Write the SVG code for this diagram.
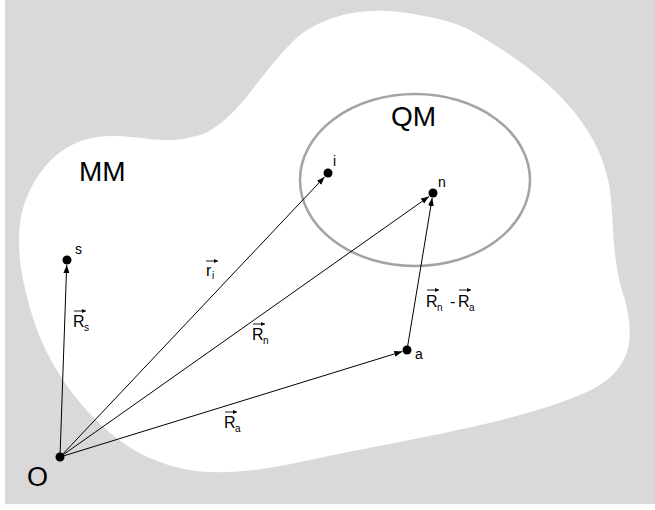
<svg xmlns="http://www.w3.org/2000/svg" width="655" height="510" viewBox="0 0 655 510">
<defs>
<style>
text{font-family:"Liberation Sans",Arial,sans-serif;fill:#000}
.big{font-size:28px}
.lbl{font-size:14px}
.v{font-size:16px}
.sub{font-size:10px}
.con{stroke:#000;stroke-width:1;fill:none}
.va{stroke:#000;stroke-width:0.9;fill:none}
.dot{fill:#000}
</style>
<marker id="ah" markerUnits="userSpaceOnUse" markerWidth="10" markerHeight="8" refX="8" refY="3" orient="auto">
<path d="M0,0 L8,3 L0,6 Z" fill="#000"/>
</marker>
<marker id="sa" markerUnits="userSpaceOnUse" markerWidth="6" markerHeight="6" refX="4" refY="2" orient="auto">
<path d="M0,0 L4,2 L0,4 Z" fill="#000"/>
</marker>
</defs>
<rect x="5" y="0" width="650" height="504" fill="#dad8d8"/>
<path id="blob" d="M37,330 C20,280 10,230 30,190 C50,150 80,135 115,136 C150,137 165,145 200,135 C240,120 260,70 300,35 C330,12 370,8 400,12 C430,16 455,22 470,30 C540,70 600,120 610,190 C615,240 612,260 625,300 C635,340 630,365 600,385 C540,420 400,440 300,462 C250,473 200,478 160,462 C110,445 60,390 37,330 Z" fill="#fff"/>
<ellipse id="qm-region" cx="415" cy="180" rx="115" ry="86" fill="none" stroke="#a3a3a3" stroke-width="2.5"/>
<text class="big" x="79" y="181">MM</text>
<text class="big" x="391" y="126">QM</text>
<g id="connectors">
<line class="con" x1="60" y1="457" x2="66.7" y2="265" marker-end="url(#ah)"/>
<line class="con" x1="60" y1="457" x2="324.5" y2="177" marker-end="url(#ah)"/>
<line class="con" x1="60" y1="457" x2="429" y2="196.5" marker-end="url(#ah)"/>
<line class="con" x1="60" y1="457" x2="402.3" y2="351.5" marker-end="url(#ah)"/>
<line class="con" x1="407" y1="350" x2="432.2" y2="198" marker-end="url(#ah)"/>
</g>
<g id="node-O"><circle class="dot" cx="60" cy="457" r="4.5"/><text x="27" y="486" style="font-size:27px">O</text></g>
<g id="node-s"><circle class="dot" cx="67" cy="260" r="4.5"/><text class="lbl" x="75" y="254">s</text></g>
<g id="node-i"><circle class="dot" cx="328" cy="173" r="4.5"/><text class="lbl" x="333" y="166">i</text></g>
<g id="node-n"><circle class="dot" cx="433" cy="193" r="4.5"/><text class="lbl" x="438" y="187">n</text></g>
<g id="node-a"><circle class="dot" cx="407" cy="350" r="4.5"/><text class="lbl" x="415" y="359">a</text></g>
<g id="label-Rs"><line class="va" x1="74" y1="311" x2="86" y2="311" marker-end="url(#sa)"/><text class="v" x="73" y="327">R</text><text class="sub" x="84" y="331">s</text></g>
<g id="label-ri"><line class="va" x1="206" y1="261" x2="218" y2="261" marker-end="url(#sa)"/><text class="v" x="206" y="276">r</text><text class="sub" x="212" y="279">i</text></g>
<g id="label-Rn"><line class="va" x1="253" y1="324" x2="265" y2="324" marker-end="url(#sa)"/><text class="v" x="252" y="340">R</text><text class="sub" x="263" y="344">n</text></g>
<g id="label-Ra"><line class="va" x1="225" y1="412" x2="237" y2="412" marker-end="url(#sa)"/><text class="v" x="224" y="428">R</text><text class="sub" x="235" y="432">a</text></g>
<g id="label-Rn-Ra"><line class="va" x1="427" y1="290" x2="439" y2="290" marker-end="url(#sa)"/><text class="v" x="426" y="307">R</text><text class="sub" x="437" y="311">n</text><text class="v" x="450" y="307">-</text><line class="va" x1="459" y1="290" x2="471" y2="290" marker-end="url(#sa)"/><text class="v" x="458" y="307">R</text><text class="sub" x="469" y="311">a</text></g>
</svg>
